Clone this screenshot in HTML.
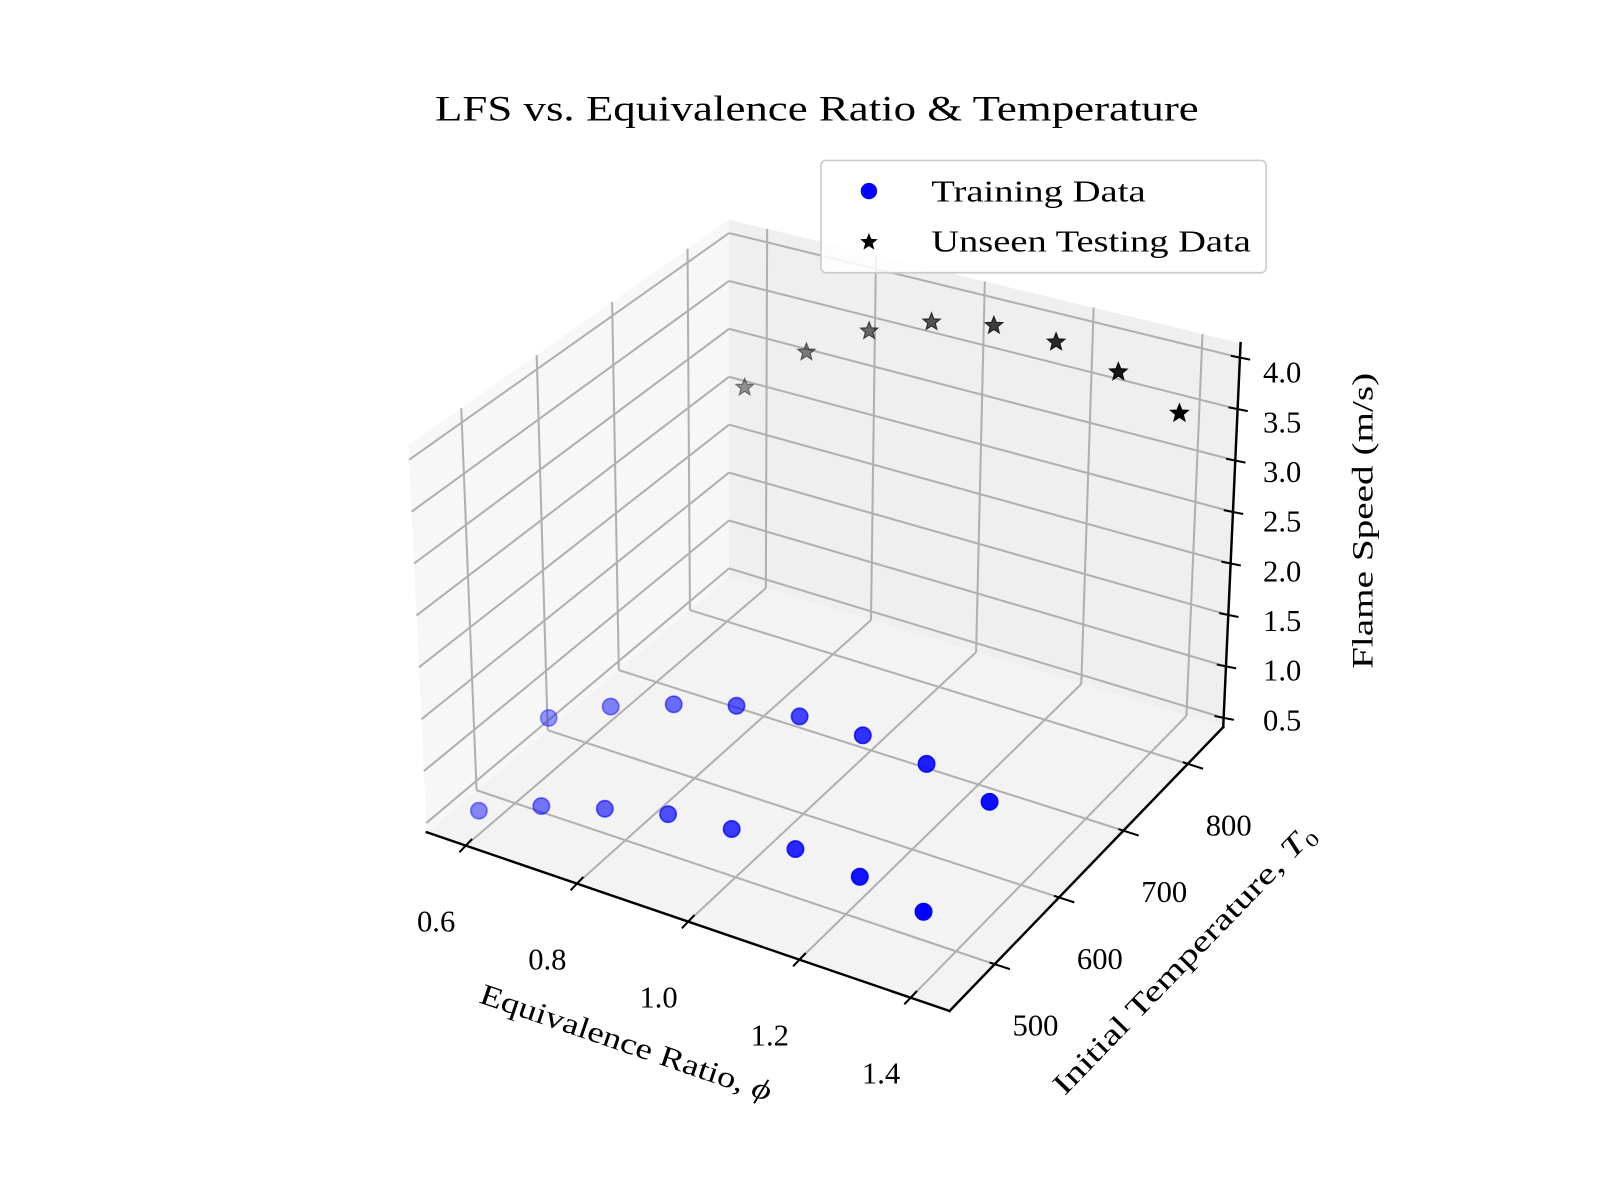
<!DOCTYPE html>
<html><head><meta charset="utf-8"><style>
html,body{margin:0;padding:0;background:#fff;}
svg{display:block;}
text{font-family:"Liberation Serif","DejaVu Serif",serif;fill:#000;}
</style></head><body>
<svg id="chart" xmlns="http://www.w3.org/2000/svg" width="1600" height="1200" viewBox="0 0 1567 1175">
<rect x="0" y="0" width="1567" height="1175" fill="#fff"/>
<text x="800" y="118" font-size="35" text-anchor="middle" textLength="748" lengthAdjust="spacingAndGlyphs">LFS vs. Equivalence Ratio &amp; Temperature</text>
<g id="panes"></g>
<g id="grid"></g>
<g id="axes"></g>
<g id="marks"></g>
<g id="legend">
  <rect x="804" y="157" width="436" height="110" rx="5" fill="#fff" fill-opacity="0.85" stroke="#cccccc" stroke-width="1.6"/>
  <circle cx="851" cy="187" r="8" fill="#0000ff"/>
  <text x="912" y="197" font-size="30" textLength="210" lengthAdjust="spacingAndGlyphs">Training Data</text>
  <polygon id="legstar" fill="#000"/>
  <text x="912" y="246" font-size="30" textLength="313" lengthAdjust="spacingAndGlyphs">Unseen Testing Data</text>
</g>
<text x="0" y="0" font-size="29" text-anchor="middle" transform="translate(610,1030) rotate(18.9)" textLength="300" lengthAdjust="spacingAndGlyphs">Equivalence Ratio, <tspan font-style="italic">ϕ</tspan></text>
<text x="0" y="0" font-size="29" text-anchor="middle" transform="translate(1166,946) rotate(-46)" textLength="355" lengthAdjust="spacingAndGlyphs">Initial Temperature, <tspan font-style="italic">T</tspan><tspan font-size="18" dy="6">0</tspan></text>
<text x="0" y="0" font-size="29" text-anchor="middle" transform="translate(1344,510) rotate(-90)" textLength="290" lengthAdjust="spacingAndGlyphs">Flame Speed (m/s)</text>
</svg>
<script>
// ---- data ----
const phiValues = [0.6, 0.714, 0.829, 0.943, 1.057, 1.171, 1.286, 1.4];
const trainTemps = [450, 550];
const trainSpeedLow = [0.63, 0.88, 1.06, 1.21, 1.27, 1.28, 1.22, 1.09];
const trainSpeedHigh = [0.95, 1.26, 1.48, 1.66, 1.75, 1.76, 1.68, 1.51];
const testTemps = [825];
const testSpeed = [2.67, 3.20, 3.58, 3.83, 3.95, 3.94, 3.80, 3.55];
const xTicks = [0.6, 0.8, 1.0, 1.2, 1.4];
const xTickLabels = ["0.6", "0.8", "1.0", "1.2", "1.4"];
const yTicks = [500, 600, 700, 800];
const yTickLabels = ["500", "600", "700", "800"];
const zTicks = [0.5, 1.0, 1.5, 2.0, 2.5, 3.0, 3.5, 4.0];
const zTickLabels = ["0.5", "1.0", "1.5", "2.0", "2.5", "3.0", "3.5", "4.0"];

// ---- axis limits & projection ----
const X0 = 0.53, X1 = 1.47, Y0 = 430, Y1 = 855, Z0 = 0.41, Z1 = 4.14;
const C = {
  "000": [418, 815], "100": [930, 990], "010": [714, 565], "110": [1198, 712],
  "001": [400, 436], "101": [930, 598], "011": [714, 215], "111": [1215, 336]
};
function proj(x, y, z) {
  const u = (x - X0) / (X1 - X0), v = (y - Y0) / (Y1 - Y0), w = (z - Z0) / (Z1 - Z0);
  let px = 0, py = 0;
  for (const a of [0, 1]) for (const b of [0, 1]) for (const c of [0, 1]) {
    const f = (a ? u : 1 - u) * (b ? v : 1 - v) * (c ? w : 1 - w);
    const p = C["" + a + b + c];
    px += f * p[0]; py += f * p[1];
  }
  return [px, py];
}
const NS = "http://www.w3.org/2000/svg";
function mk(tag, attrs, parent) {
  const el = document.createElementNS(NS, tag);
  for (const k in attrs) el.setAttribute(k, attrs[k]);
  parent.appendChild(el);
  return el;
}
function poly(pts) { return pts.map(p => p[0].toFixed(1) + "," + p[1].toFixed(1)).join(" "); }

const panes = document.getElementById("panes");
const grid = document.getElementById("grid");
const axes = document.getElementById("axes");
const marks = document.getElementById("marks");

let el;
el = mk("polygon", {points: poly([proj(X0,Y0,Z0), proj(X0,Y1,Z0), proj(X0,Y1,Z1), proj(X0,Y0,Z1)]), fill: "#f7f7f7"}, panes);


el = mk("polygon", {points: poly([proj(X0,Y1,Z0), proj(X1,Y1,Z0), proj(X1,Y1,Z1), proj(X0,Y1,Z1)]), fill: "#efefef"}, panes);


el = mk("polygon", {points: poly([proj(X0,Y0,Z0), proj(X1,Y0,Z0), proj(X1,Y1,Z0), proj(X0,Y1,Z0)]), fill: "#f3f3f3"}, panes);



function gline(a, b, name) {
  const l = mk("line", {x1: a[0], y1: a[1], x2: b[0], y2: b[1], stroke: "#b0b0b0", "stroke-width": 2.0}, grid);
  
  
}
xTicks.forEach(t => {
  gline(proj(t, Y0, Z0), proj(t, Y1, Z0), "floor-grid-x");
  gline(proj(t, Y1, Z0), proj(t, Y1, Z1), "back-grid-x");
});
yTicks.forEach(t => {
  gline(proj(X0, t, Z0), proj(X1, t, Z0), "floor-grid-y");
  gline(proj(X0, t, Z0), proj(X0, t, Z1), "left-grid-y");
});
zTicks.forEach(t => {
  gline(proj(X0, Y0, t), proj(X0, Y1, t), "left-grid-z");
  gline(proj(X0, Y1, t), proj(X1, Y1, t), "back-grid-z");
});

function aline(a, b, name, sw) {
  const l = mk("line", {x1: a[0], y1: a[1], x2: b[0], y2: b[1], stroke: "#000", "stroke-width": sw, "stroke-linecap": "square"}, axes);
  
  
}
aline(proj(X0, Y0, Z0), proj(X1, Y0, Z0), "x-axis-line", 2.4);
aline(proj(X1, Y0, Z0), proj(X1, Y1, Z0), "y-axis-line", 2.4);
aline(proj(X1, Y1, Z0), proj(X1, Y1, Z1), "z-axis-line", 2.4);

function tlabel(x, y, s, name, anchor) {
  const t = mk("text", {x: x, y: y, "font-size": 30, "text-anchor": anchor || "middle"}, axes);
  t.textContent = s;
  
  
}
xTicks.forEach((t, i) => {
  const p = proj(t, Y0, Z0);
  aline([p[0] - 5.5, p[1] + 5.8], [p[0] + 5.5, p[1] - 5.8], "x-tick", 2);
  tlabel(p[0] - 29, p[1] + 84, xTickLabels[i], "x-tick-label");
});
yTicks.forEach((t, i) => {
  const p = proj(X1, t, Z0);
  aline([p[0] - 4, p[1] - 1.3], [p[0] + 14, p[1] + 4.5], "y-tick", 2);
  tlabel(p[0] + 40, p[1] + 70, yTickLabels[i], "y-tick-label");
});
zTicks.forEach((t, i) => {
  const p = proj(X1, Y1, t);
  const w = (t - Z0) / (Z1 - Z0);
  aline([p[0] - 8, p[1] - 1.6], [p[0] + 9, p[1] + 1.8], "z-tick", 2);
  tlabel(1237, p[1] + 12 + 13 * w, zTickLabels[i], "z-tick-label", "start");
});

function alphas(pts) {
  const d = pts.map(p => { const u = (p[0]-X0)/(X1-X0), v = (p[1]-Y0)/(Y1-Y0); return u * 0.85 - v * 0.25; });
  const mn = Math.min(...d), mx = Math.max(...d);
  return d.map(x => 0.4 + 0.6 * (x - mn) / (mx - mn || 1));
}
const trainPts = [];
phiValues.forEach((ph, i) => trainPts.push([ph, trainTemps[0], trainSpeedLow[i]]));
phiValues.forEach((ph, i) => trainPts.push([ph, trainTemps[1], trainSpeedHigh[i]]));
const ta = alphas(trainPts);
trainPts.forEach((p, i) => {
  const s = proj(p[0], p[1], p[2]);
  const c = mk("circle", {cx: s[0], cy: s[1], r: 8, fill: "#0000ff", "fill-opacity": ta[i].toFixed(2), stroke: "#0000ff", "stroke-opacity": ta[i].toFixed(2), "stroke-width": 1.6}, marks);
  
  
});
function starPts(cx, cy, R, r) {
  const pts = [];
  for (let k = 0; k < 10; k++) {
    const ang = -Math.PI / 2 + k * Math.PI / 5;
    const rr = k % 2 ? r : R;
    pts.push([cx + rr * Math.cos(ang), cy + rr * Math.sin(ang)]);
  }
  return poly(pts);
}
const testPts = phiValues.map((ph, i) => [ph, testTemps[0], testSpeed[i]]);
const sa = alphas(testPts);
testPts.forEach((p, i) => {
  const s = proj(p[0], p[1], p[2]);
  const st = mk("polygon", {points: starPts(s[0], s[1], 9, 3.9), fill: "#000", "fill-opacity": sa[i].toFixed(2), stroke: "#000", "stroke-opacity": sa[i].toFixed(2), "stroke-width": 1.2}, marks);
  
  
});
document.getElementById("legstar").setAttribute("points", starPts(851, 237, 9, 3.9));
</script>
</body></html>
